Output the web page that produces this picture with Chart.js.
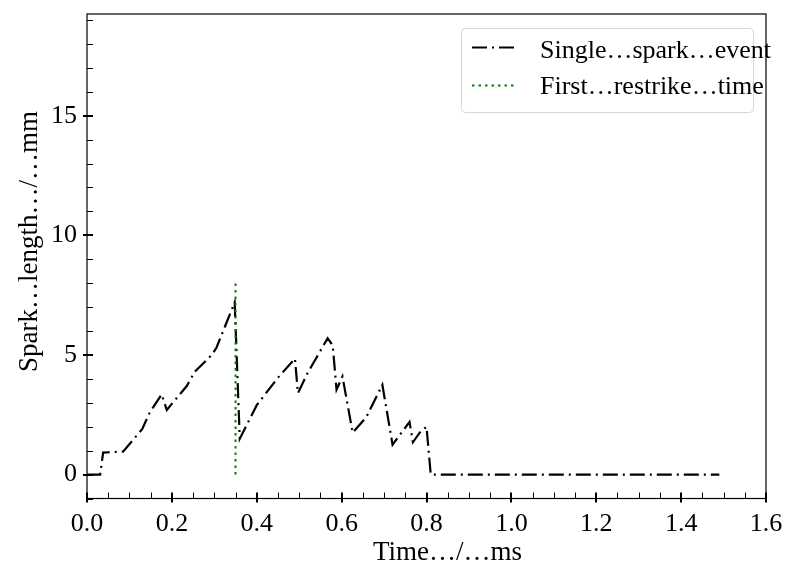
<!DOCTYPE html>
<html>
<head>
<meta charset="utf-8">
<script src="https://cdn.jsdelivr.net/npm/chart.js@4"></script>
<style>
  body { margin: 0; background: #fff; }
  #wrap { width: 787px; height: 564px; }
</style>
</head>
<body>
<div id="wrap"><canvas id="chart" width="787" height="564"></canvas></div>
<script>
// values
const times = [0, 0.031, 0.038, 0.085, 0.13, 0.148, 0.176, 0.188, 0.235, 0.254, 0.294, 0.305, 0.348,
    0.36, 0.40, 0.45, 0.49, 0.497, 0.52, 0.567, 0.579, 0.588, 0.602, 0.626, 0.658, 0.696,
    0.72, 0.76, 0.768, 0.784, 0.80, 0.81, 1.49];
const sparkLengths = [0, 0, 0.92, 0.96, 1.9, 2.6, 3.35, 2.7, 3.7, 4.3, 5.0, 5.3, 7.2,
    1.5, 2.9, 4.05, 4.85, 3.4, 4.25, 5.7, 5.4, 3.55, 4.1, 1.75, 2.4, 3.75,
    1.25, 2.2, 1.35, 1.75, 2.0, 0, 0];
const restrikeTime = [0.35, 0.35];
const restrikeLength = [0, 8];

const xTicks = [0, 0.2, 0.4, 0.6, 0.8, 1.0, 1.2, 1.4, 1.6];
const yTicks = [0, 5, 10, 15];
const seriesLabels = ["Single…spark…event", "First…restrike…time"];
const xTitle = "Time…/…ms";
const yTitle = "Spark…length…/…mm";

const serif = "'Liberation Serif', 'Times New Roman', serif";
const sparkDash = [15, 5, 2, 5];
const restrikeDash = [2.5, 4];

// keep the plot box where the reference has it
function noPadding(scale) {
    scale.paddingTop = 0;
    scale.paddingBottom = 0;
    scale.paddingLeft = 0;
    scale.paddingRight = 0;
}

const frameAndLegend = {
    id: "frameAndLegend",
    afterDraw(chart) {
        const ctx = chart.ctx;
        const area = chart.chartArea;
        const xs = chart.scales.x;
        const ys = chart.scales.y;
        ctx.save();

        // minor ticks, inward
        ctx.strokeStyle = "#000";
        ctx.lineWidth = 1;
        ctx.beginPath();
        for (let i = 1; i < 32; i++) {
            if (i % 4 === 0) continue;
            const px = Math.round(xs.getPixelForValue(i * 0.05)) + 0.5;
            ctx.moveTo(px, area.bottom);
            ctx.lineTo(px, area.bottom - 6);
        }
        for (let v = -1; v <= 19; v++) {
            if (v % 5 === 0) continue;
            const py = Math.round(ys.getPixelForValue(v)) + 0.5;
            ctx.moveTo(area.left, py);
            ctx.lineTo(area.left + 6, py);
        }
        ctx.stroke();

        // major ticks, crossing the spine
        ctx.lineWidth = 2;
        ctx.beginPath();
        xTicks.forEach((v) => {
            const px = Math.round(xs.getPixelForValue(v));
            ctx.moveTo(px, area.bottom + 4);
            ctx.lineTo(px, area.bottom - 6);
        });
        yTicks.forEach((v) => {
            const py = Math.round(ys.getPixelForValue(v));
            ctx.moveTo(area.left - 4, py);
            ctx.lineTo(area.left + 6, py);
        });
        ctx.stroke();

        // frame
        ctx.lineWidth = 1.2;
        ctx.strokeRect(area.left, area.top, area.right - area.left, area.bottom - area.top);

        // legend
        const bx = 461, by = 28, bw = 292, bh = 84;
        ctx.fillStyle = "rgba(255,255,255,0.8)";
        ctx.strokeStyle = "#d6d6d6";
        ctx.lineWidth = 1;
        ctx.beginPath();
        ctx.roundRect(bx + 0.5, by + 0.5, bw, bh, 4);
        ctx.fill();
        ctx.stroke();

        ctx.lineWidth = 2;
        ctx.strokeStyle = "#000";
        ctx.setLineDash(sparkDash);
        ctx.beginPath();
        ctx.moveTo(472, 47.5);
        ctx.lineTo(516, 47.5);
        ctx.stroke();

        ctx.strokeStyle = "#008000";
        ctx.setLineDash(restrikeDash);
        ctx.beginPath();
        ctx.moveTo(472, 85.5);
        ctx.lineTo(516, 85.5);
        ctx.stroke();
        ctx.setLineDash([]);

        ctx.fillStyle = "#000";
        ctx.font = "26px " + serif;
        ctx.textAlign = "left";
        ctx.textBaseline = "alphabetic";
        ctx.fillText(seriesLabels[0], 540, 57.5);
        ctx.fillText(seriesLabels[1], 540, 94);

        // axis titles
        ctx.font = "27px " + serif;
        ctx.fillText(xTitle, 373, 560);
        ctx.translate(37, 372);
        ctx.rotate(-Math.PI / 2);
        ctx.fillText(yTitle, 0, 0);
        ctx.restore();
    },
};

new Chart(document.getElementById("chart"), {
    type: "scatter",
    data: {
        datasets: [
            {
                label: seriesLabels[0],
                data: times.map((t, i) => ({ x: t, y: sparkLengths[i] })),
                showLine: true,
                borderColor: "#000",
                borderWidth: 2.2,
                borderDash: sparkDash,
                pointRadius: 0,
                tension: 0,
                order: 1,
            },
            {
                label: seriesLabels[1],
                data: restrikeTime.map((t, i) => ({ x: t, y: restrikeLength[i] })),
                showLine: true,
                borderColor: "#008000",
                borderWidth: 2,
                borderDash: restrikeDash,
                pointRadius: 0,
                order: 0,
            },
        ],
    },
    options: {
        responsive: false,
        animation: false,
        layout: { padding: { top: 14, right: 21, left: 0, bottom: 0 } },
        plugins: {
            legend: { display: false },
            tooltip: { enabled: false },
        },
        scales: {
            x: {
                type: "linear",
                min: 0,
                max: 1.6,
                afterBuildTicks: (scale) => { scale.ticks = xTicks.map((v) => ({ value: v })); },
                afterFit: (scale) => { scale.height = 65.5; noPadding(scale); },
                grid: { display: false, drawTicks: false },
                border: { display: false },
                ticks: {
                    color: "#000",
                    padding: 10,
                    maxRotation: 0,
                    autoSkip: false,
                    font: { family: serif, size: 26 },
                    callback: (value) => value.toFixed(1),
                },
            },
            y: {
                type: "linear",
                min: -1,
                max: 19.25,
                afterBuildTicks: (scale) => { scale.ticks = yTicks.map((v) => ({ value: v })); },
                afterFit: (scale) => { scale.width = 87; noPadding(scale); },
                grid: { display: false, drawTicks: false },
                border: { display: false },
                ticks: {
                    color: "#000",
                    padding: 10,
                    font: { family: serif, size: 26 },
                    callback: (value) => String(value),
                },
            },
        },
    },
    plugins: [frameAndLegend],
});
</script>
</body>
</html>
